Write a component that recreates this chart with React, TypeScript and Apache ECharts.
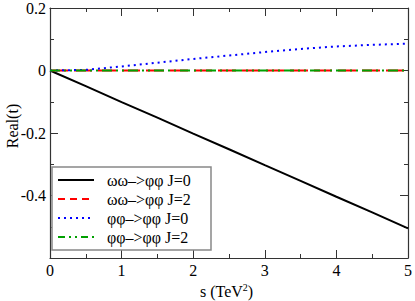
import React, { useEffect, useRef } from "react";
import * as echarts from "echarts";

const sValues = [0, 0.5, 1, 1.5, 2, 2.5, 3, 3.5, 4, 4.5, 5];
const wwJ0 = [0, -0.05, -0.101, -0.151, -0.202, -0.252, -0.303, -0.353, -0.404, -0.454, -0.505];
const wwJ2 = [0, 0, 0, 0, 0, 0, 0, 0, 0, 0, 0];
const ffJ0 = [0, 0.002, 0.013, 0.025, 0.037, 0.048, 0.059, 0.069, 0.077, 0.082, 0.086];
const ffJ2 = [0, 0, 0, 0, 0, 0, 0, 0, 0, 0, 0];
const seriesNames = ["ωω–>φφ J=0", "ωω–>φφ J=2", "φφ–>φφ J=0", "φφ–>φφ J=2"];
const xTicks = [0, 1, 2, 3, 4, 5];
const yTicks = [-0.6, -0.4, -0.2, 0, 0.2];

const FONT = "Liberation Serif";
const colors = ["#000000", "#ff0000", "#0000ff", "#00a000"];
const dashes: (number[] | null)[] = [null, [18, 6], [2, 4], [10, 4, 2, 4, 2, 4]];
const legendDashes: (number[] | null)[] = [null, [7, 5], [2, 4], [7, 4, 2, 4, 2, 4]];

export default function App() {
  const ref = useRef<HTMLDivElement>(null);
  useEffect(() => {
    document.body.style.margin = "0";
    if (!ref.current) return;
    const chart = echarts.init(ref.current, undefined, { renderer: "svg" });
    const pair = (ys: number[]) => sValues.map((s, i) => [s, ys[i]]);
    const axisLine = { lineStyle: { color: "#333", width: 1.2 } };
    const xBase = {
      type: "value" as const,
      min: xTicks[0],
      max: xTicks[xTicks.length - 1],
      interval: 1,
      axisLine: { ...axisLine, onZero: false },
      axisTick: { show: true, inside: true, length: 8, lineStyle: { color: "#333" } },
      minorTick: { show: true, splitNumber: 2, length: 4, lineStyle: { color: "#333" } },
      splitLine: { show: false },
    };
    const yBase = {
      type: "value" as const,
      min: yTicks[0],
      max: yTicks[yTicks.length - 1],
      interval: 0.2,
      axisLine: { ...axisLine, onZero: false },
      axisTick: { show: true, inside: true, length: 8, lineStyle: { color: "#333" } },
      minorTick: { show: true, splitNumber: 2, length: 4, lineStyle: { color: "#333" } },
      splitLine: { show: false },
    };
    const legendRowY = [180, 199, 218, 237];
    const legendItems: any[] = [
      {
        type: "rect",
        shape: { x: 52, y: 167, width: 159, height: 83 },
        style: { fill: "#fff", stroke: "#888", lineWidth: 1.5 },
        z: 100,
      },
    ];
    seriesNames.forEach((name, i) => {
      legendItems.push({
        type: "line",
        shape: { x1: 58, y1: legendRowY[i], x2: 94, y2: legendRowY[i] },
        style: { stroke: colors[i], lineWidth: 2, lineDash: legendDashes[i] || undefined },
        z: 101,
      });
      legendItems.push({
        type: "text",
        x: 107,
        y: legendRowY[i],
        style: { text: name, fontFamily: FONT, fontSize: 16, fill: "#000", verticalAlign: "middle" },
        z: 101,
      });
    });
    chart.setOption({
      animation: false,
      grid: { left: 50, right: 5, top: 7, bottom: 43 },
      xAxis: [
        {
          ...xBase,
          position: "bottom",
          axisLabel: { color: "#000", fontFamily: FONT, fontSize: 16, margin: 4 },
        },
        { ...xBase, position: "top", axisLabel: { show: false } },
      ],
      yAxis: [
        {
          ...yBase,
          position: "left",
          axisLabel: {
            color: "#000",
            fontFamily: FONT,
            fontSize: 16,
            margin: 4,
            formatter: (v: number) => {
              if (Math.abs(v - yTicks[0]) < 1e-9) return "";
              const r = Math.round(v * 10) / 10;
              return r === 0 ? "0" : String(r);
            },
          },
        },
        { ...yBase, position: "right", axisLabel: { show: false } },
      ],
      graphic: [
        {
          type: "text",
          x: 200,
          y: 282,
          style: {
            text: "{a|s (TeV}{b|2}{a|)}",
            rich: {
              a: { fontFamily: FONT, fontSize: 16, fill: "#000" },
              b: { fontFamily: FONT, fontSize: 10, fill: "#000", verticalAlign: "top", padding: [0, 0, 8, 0] },
            },
          },
        },
        {
          type: "text",
          x: 12,
          y: 126,
          rotation: Math.PI / 2,
          style: {
            text: "Real(t)",
            fontFamily: FONT,
            fontSize: 16,
            fill: "#000",
            align: "center",
            verticalAlign: "middle",
          },
        },
        ...legendItems,
      ],
      series: seriesNames.map((name, i) => ({
        name,
        type: "line",
        data: pair([wwJ0, wwJ2, ffJ0, ffJ2][i]),
        symbol: "none",
        color: colors[i],
        lineStyle: { color: colors[i], width: 2, type: dashes[i] || "solid" },
      })),
    });
    return () => chart.dispose();
  }, []);
  return <div ref={ref} style={{ width: 415, height: 301 }} />;
}
